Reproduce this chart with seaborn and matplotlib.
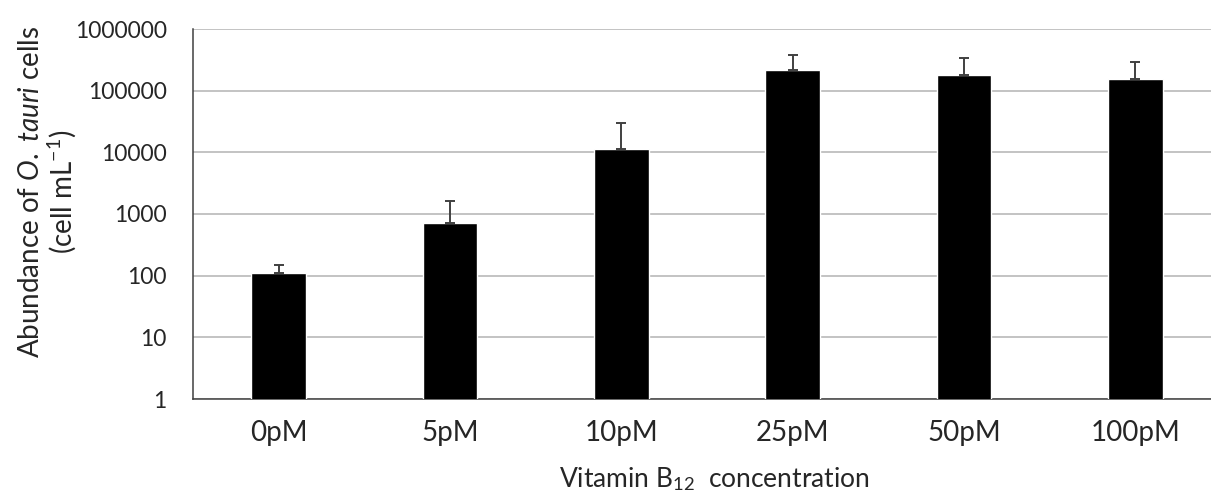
### DEPENDENCIES ###
import pandas as pd
import numpy as np
import matplotlib
matplotlib.use('Agg')
import matplotlib.pyplot as plt
from matplotlib.ticker import FixedLocator, LogLocator, NullFormatter
import seaborn as sns

### DATA ###
concentrations = ['0pM', '5pM', '10pM', '25pM', '50pM', '100pM']
abundance_mean = [112, 720, 11400, 220000, 178000, 154000]   # cell mL-1
abundance_upper = [151, 1600, 30000, 385000, 340000, 293000]  # top of error bar
ytick_values = [1, 10, 100, 1000, 10000, 100000, 1000000]
ytick_labels = ['1', '10', '100', '1000', '10000', '100000', '1000000']

DATA = pd.DataFrame({'conc': concentrations, 'abundance': abundance_mean})

### STYLE ###
sns.set_style('white')
plt.rcParams['font.family'] = ['Lato', 'DejaVu Sans']
plt.rcParams['mathtext.fontset'] = 'custom'
plt.rcParams['mathtext.rm'] = 'Lato'
plt.rcParams['mathtext.it'] = 'Lato:italic'
AXCOL = '#404040'

### PLOT ###
fig = plt.figure(figsize=(12.11, 4.99), dpi=100)
# axes runs a bit past the right edge of the picture, like the reference crop
ax = fig.add_axes([193/1211, 100/499, 1028/1211, 370/499])
ax.set_yscale('log')

sns.barplot(data=DATA, x='conc', y='abundance', color='black', width=0.32,
            saturation=1, errorbar=None, ax=ax, zorder=3)

# upper-only error bars
x_pos = np.arange(len(concentrations))
err_up = np.array(abundance_upper) - np.array(abundance_mean)
ax.errorbar(x_pos, abundance_mean, yerr=[np.zeros_like(err_up), err_up], fmt='none',
            ecolor=AXCOL, elinewidth=1.4, capsize=3.6, capthick=1.4, zorder=4)

ax.set_xlim(-0.5, len(concentrations) - 0.5)
ax.set_ylim(1, 1000000)

# y axis: decades with plain labels, minor log ticks
ax.yaxis.set_major_locator(FixedLocator(ytick_values))
ax.set_yticklabels(ytick_labels)
ax.yaxis.set_minor_locator(LogLocator(base=10, subs=np.arange(2, 10)))
ax.yaxis.set_minor_formatter(NullFormatter())
ax.tick_params(axis='y', which='major', direction='out', length=6, width=1, color=AXCOL,
               labelsize=16.5, pad=13)
ax.tick_params(axis='y', which='minor', direction='out', length=4, width=0.8, color=AXCOL)

# x axis: labels at centers, tick marks between categories
ax.xaxis.set_minor_locator(FixedLocator(np.arange(-0.5, len(concentrations), 1.0)))
ax.tick_params(axis='x', which='major', length=0, labelsize=20, pad=15)
ax.tick_params(axis='x', which='minor', direction='out', length=8, width=1, color=AXCOL)

ax.grid(axis='y', which='major', color='#b3b3b3', linewidth=1.1, zorder=0)
ax.grid(axis='x', visible=False)
ax.set_axisbelow(True)

for s in ['top', 'right']:
    ax.spines[s].set_visible(False)
for s in ['left', 'bottom']:
    ax.spines[s].set_color(AXCOL)
    ax.spines[s].set_linewidth(1.1)

ax.set_ylabel('Abundance of $\\it{O.\\ tauri}$ cells\n(cell mL$^{-1}$)', fontsize=20,
              linespacing=1.05)
ax.yaxis.set_label_coords(-0.112, 0.56)
ax.set_xlabel('Vitamin B$_{12}$  concentration', fontsize=19)
ax.xaxis.set_label_coords(0.507, -0.178)

plt.savefig('out.png', dpi=100)
